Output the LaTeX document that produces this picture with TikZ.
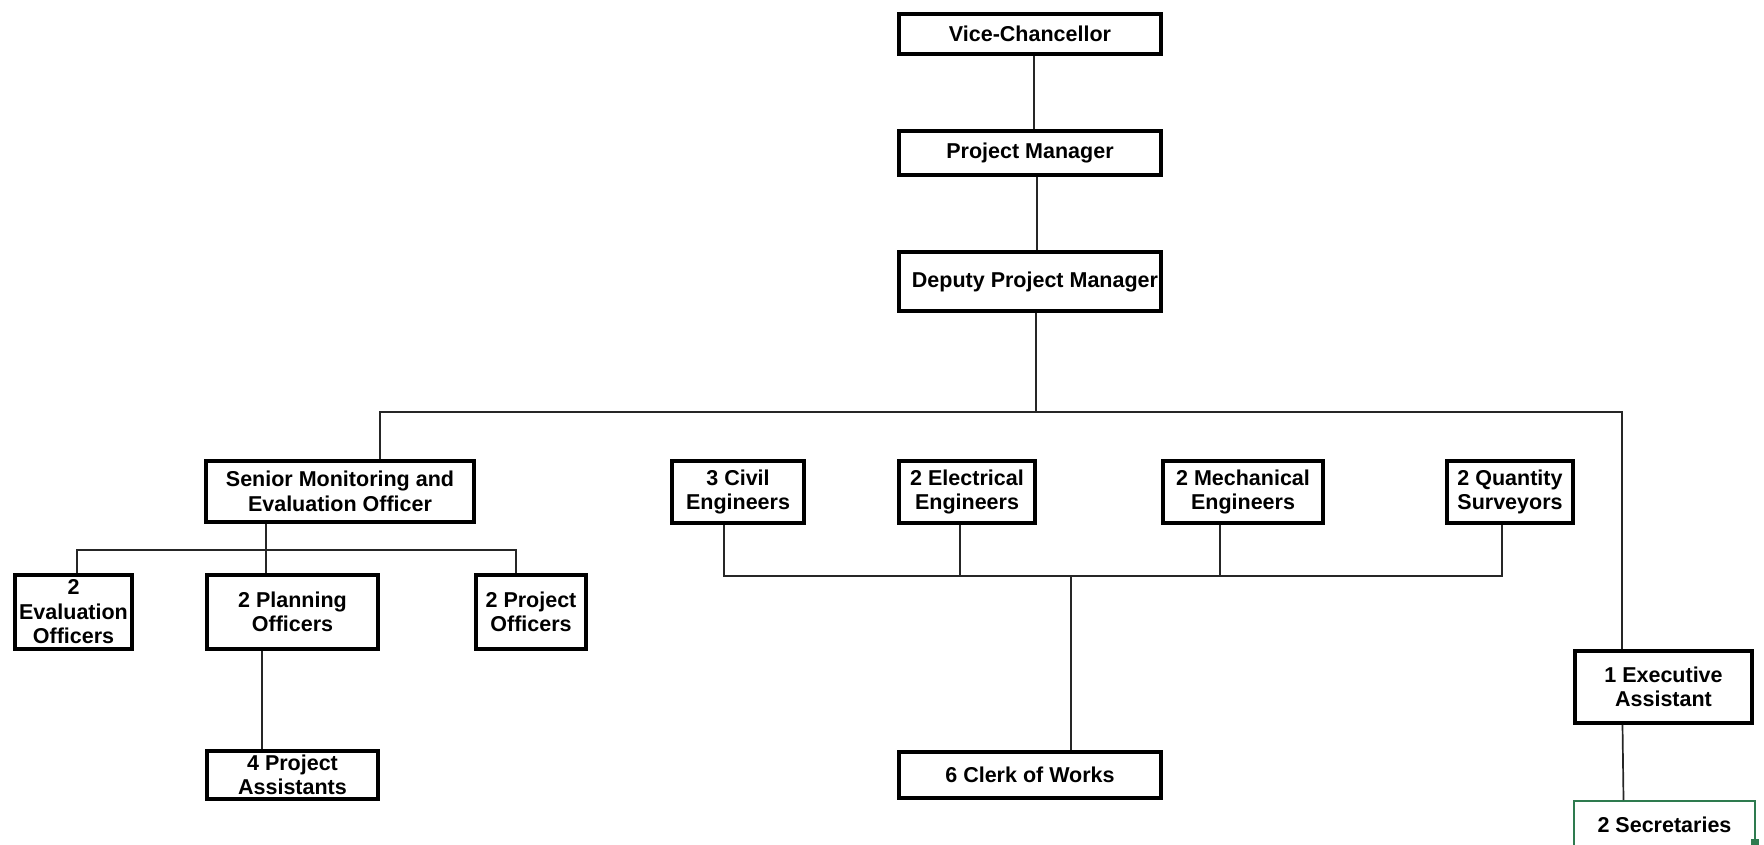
\documentclass[tikz,border=0pt]{standalone}
\usepackage{fontspec}
\setmainfont{Liberation Sans}
\definecolor{secgreen}{HTML}{2E7B4F}
\tikzset{
  box/.style={draw=black, line width=3.5pt, rectangle, inner sep=0pt, align=center,
    font=\fontsize{21.5}{24.5}\selectfont\bfseries},
  greenbox/.style={box, draw=secgreen, line width=2pt},
  conn/.style={draw=black!85, line width=1.7pt}
}
\begin{document}
\begin{tikzpicture}[x=1pt, y=-1pt]
\useasboundingbox (0,0) rectangle (1764,845);
% top chain
\node[box, minimum width=262pt, minimum height=40pt] (vc) at (1030,34) {Vice-Chancellor};
\node[box, minimum width=262pt, minimum height=44pt] (pm) at (1030,153) {Project Manager};
\node[box, minimum width=262pt, minimum height=59pt] (dpm) at (1030,281.5) {\hspace*{10pt}Deputy Project Manager};
% second row
\node[box, minimum width=268pt, minimum height=61pt] (smeo) at (340,491.5) {Senior Monitoring and\\Evaluation Officer};
\node[box, minimum width=132pt, minimum height=62pt] (civil) at (738,492) {3 Civil\\Engineers};
\node[box, minimum width=136pt, minimum height=62pt] (elec) at (967,492) {2 Electrical\\Engineers};
\node[box, minimum width=160pt, minimum height=62pt] (mech) at (1243,492) {2 Mechanical\\Engineers};
\node[box, minimum width=126pt, minimum height=62pt] (qs) at (1510,492) {2 Quantity\\Surveyors};
% third row
\node[box, minimum width=117pt, minimum height=74pt] (eval) at (73.5,612) {2\\Evaluation\\Officers};
\node[box, minimum width=171pt, minimum height=74pt] (plan) at (292.5,612) {2 Planning\\Officers};
\node[box, minimum width=110pt, minimum height=74pt] (po) at (531,612) {2 Project\\Officers};
\node[box, minimum width=177pt, minimum height=72pt] (exec) at (1663.5,687) {1 Executive\\Assistant};
% bottom row
\node[box, minimum width=171pt, minimum height=48pt] (pa) at (292.5,775) {4 Project\\Assistants};
\node[box, minimum width=262pt, minimum height=46pt] (clerk) at (1030,775) {6 Clerk of Works};
\node[greenbox, minimum width=181pt, minimum height=48pt] (sec) at (1664.5,825) {2 Secretaries};
\fill[secgreen] (1751,839) rectangle (1759,847);
% junction coordinates
\coordinate (jtop) at (1036,412);
\coordinate (jtopl) at (380,412);
\coordinate (jtopr) at (1622,412);
\coordinate (jsm) at (266,550);
\coordinate (jsml) at (77,550);
\coordinate (jsmr) at (516,550);
\coordinate (jeng) at (1071,576);
\coordinate (jengl) at (724,576);
\coordinate (jengr) at (1502,576);
% connectors
\draw[conn] ([xshift=4pt]vc.south) -- ([xshift=4pt]pm.north);
\draw[conn] ([xshift=7pt]pm.south) -- ([xshift=7pt]dpm.north);
\draw[conn] ([xshift=6pt]dpm.south) -- (jtop);
\draw[conn] ([xshift=40pt]smeo.north) -- (jtopl) -- (jtopr) -- ([xshift=-41.5pt]exec.north);
\draw[conn] ([xshift=-41pt]exec.south) -- ([xshift=-41pt]sec.north);
% senior M&E subtree
\draw[conn] ([xshift=-74pt]smeo.south) -- (jsm);
\draw[conn] ([xshift=3.5pt]eval.north) -- (jsml) -- (jsmr) -- ([xshift=-15pt]po.north);
\draw[conn] (jsm) -- ([xshift=-26.5pt]plan.north);
\draw[conn] ([xshift=-30.5pt]plan.south) -- ([xshift=-30.5pt]pa.north);
% engineers subtree
\draw[conn] ([xshift=-14pt]civil.south) -- (jengl) -- (jengr) -- ([xshift=-8pt]qs.south);
\draw[conn] ([xshift=-7pt]elec.south) -- ([xshift=-7pt]elec.south |- jeng);
\draw[conn] ([xshift=-23pt]mech.south) -- ([xshift=-23pt]mech.south |- jeng);
\draw[conn] (jeng) -- ([xshift=41pt]clerk.north);
\end{tikzpicture}
\end{document}
